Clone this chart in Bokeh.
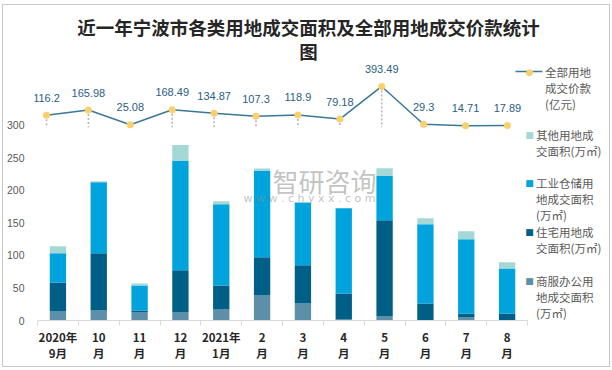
from bokeh.plotting import figure
from bokeh.models import ColumnDataSource, Range1d, FixedTicker, Label, Arrow
from bokeh.core.properties import value
from bokeh.embed import file_html
from bokeh.resources import INLINE

# ---------------- data ----------------
months = ["2020年\n9月", "10\n月", "11\n月", "12\n月", "2021年\n1月", "2\n月",
          "3\n月", "4\n月", "5\n月", "6\n月", "7\n月", "8\n月"]
commercial = [13.9, 15.4, 12.3, 12.3, 16.9, 38.5, 26.2, 1.5, 6.2, 0.0, 4.6, 0.0]      # 商服办公用地
residential = [44.6, 87.8, 3.1, 64.7, 37.0, 58.5, 58.5, 40.1, 147.8, 26.2, 6.2, 10.8]  # 住宅用地
industrial = [44.7, 109.3, 38.5, 167.9, 124.7, 132.5, 96.5, 130.9, 67.8, 121.6, 113.9, 69.2]  # 工业仓储用地
other = [10.8, 1.5, 3.1, 24.6, 4.7, 4.1, 1.0, 0.0, 12.2, 9.2, 12.3, 9.3]              # 其他用地
price = [116.2, 165.98, 25.08, 168.49, 134.87, 107.3, 118.9, 79.18, 393.49, 29.3, 14.71, 17.89]  # 全部用地成交价款(亿元)
y_ticks = [0, 50, 100, 150, 200, 250, 300]

title_lines = ["近一年宁波市各类用地成交面积及全部用地成交价款统计", "图"]
legend_line = ["全部用地", "成交价款", "(亿元)"]
legend_bars = [
    (["其他用地成", "交面积(万㎡)"], "#a3d8d6"),
    (["工业仓储用", "地成交面积", "(万㎡)"], "#00a3dc"),
    (["住宅用地成", "交面积(万㎡)"], "#005f86"),
    (["商服办公用", "地成交面积", "(万㎡)"], "#5d8fa8"),
]

n = len(months)
centers = [i + 0.5 for i in range(n)]

# ---------------- layout (page pixel geometry) ----------------
OX, OY = 3, 5                 # canvas origin on the page (inside a 1px border)
CW, CH = 604, 361             # canvas size
AX0, AX1 = 35, 525            # category axis extent (page px)
FL, FT, FB = 32, OY, 320      # frame left / top / bottom (page px)
FR = OX + CW                  # frame right = canvas right
UX = (AX1 - AX0) / n          # px per category
UY = 0.651                    # px per unit (primary y)
L0, LS = 44, 41.9             # secondary x: first point px, spacing
Z2, U2 = 126.8, 0.1038        # secondary y: zero px, px per unit


def X(px):
    return (px - AX0) / UX


def Y(py):
    return (FB - py) / UY


p = figure(frame_width=FR - FL, frame_height=FB - FT,
           min_border_left=FL - OX, min_border_right=0,
           min_border_top=0, min_border_bottom=OY + CH - FB,
           x_range=Range1d(X(FL), X(FR)), y_range=Range1d(0, Y(FT)),
           output_backend="svg", toolbar_location=None)
p.styles = {"margin-left": "2px", "margin-top": "4px", "border": "1px solid #c8c8c8"}
p.outline_line_color = None
p.xgrid.visible = False
p.ygrid.visible = False
p.background_fill_color = "white"
p.border_fill_color = "white"

# secondary ranges for the price line
p.extra_x_ranges = {"x2": Range1d((FL - L0) / LS, (FR - L0) / LS)}
p.extra_y_ranges = {"y2": Range1d(-(FB - Z2) / U2, (Z2 - FT) / U2)}

# ---------------- bars ----------------
src = ColumnDataSource(dict(x=centers, com=commercial, res=residential,
                            ind=industrial, oth=other))
p.vbar_stack(["com", "res", "ind", "oth"], x="x", width=0.4, source=src,
             fill_color=["#5d8fa8", "#005f86", "#00a3dc", "#a3d8d6"], line_color=None)

# ---------------- line ----------------
lsrc = ColumnDataSource(dict(i=list(range(n)), v=price, lab=[str(v) for v in price]))
p.segment(x0="i", y0="v", x1="i", y1=0, source=lsrc, x_range_name="x2", y_range_name="y2",
          line_color="#b5b5b5", line_width=1.6, line_dash="2 2")
p.line(x="i", y="v", source=lsrc, x_range_name="x2", y_range_name="y2",
       line_color="#3a7897", line_width=1.5)
p.scatter(x="i", y="v", source=lsrc, x_range_name="x2", y_range_name="y2",
          size=7, fill_color="#f8d06e", line_color=None)
p.text(x="i", y="v", text="lab", source=lsrc, x_range_name="x2", y_range_name="y2",
       y_offset=-17.5, text_align="center", text_baseline="middle",
       text_font=value("Liberation Sans"), text_font_size="11px", text_color="#2a6082")

# ---------------- axes ----------------
xa = p.xaxis[0]
xa.ticker = FixedTicker(ticks=centers, minor_ticks=list(range(n + 1)))
xa.bounds = (0, n)
xa.major_label_overrides = {c: m for c, m in zip(centers, months)}
xa.axis_line_color = "#d9d9d9"
xa.major_tick_line_color = None
xa.major_tick_out = 0
xa.major_tick_in = 0
xa.minor_tick_line_color = "#d9d9d9"
xa.minor_tick_out = 5
xa.minor_tick_in = 0
xa.major_label_standoff = 3
xa.major_label_text_font = "Noto Sans CJK SC"
xa.major_label_text_font_style = "bold"
xa.major_label_text_font_size = "11.5px"
xa.major_label_text_color = "#262626"
xa.major_label_text_line_height = 1.0

ya = p.yaxis[0]
ya.ticker = FixedTicker(ticks=y_ticks)
ya.axis_line_color = None
ya.major_tick_line_color = None
ya.minor_tick_line_color = None
ya.major_tick_out = 0
ya.major_label_standoff = 10
ya.major_label_text_font = "Liberation Sans"
ya.major_label_text_font_size = "10.5px"
ya.major_label_text_color = "#595959"

# ---------------- title ----------------
for txt, py in zip(title_lines, [26.7, 50.5]):
    p.add_layout(Label(x=X(306), y=Y(py), text=txt, text_align="center", text_baseline="middle",
                       text_font="Noto Sans CJK SC", text_font_style="bold",
                       text_font_size="18.5px", text_color="#262626"))

# ---------------- watermark ----------------
p.add_layout(Label(x=X(322), y=Y(180), text="智研咨询", text_align="center", text_baseline="middle",
                   text_font="Noto Sans CJK SC", text_font_size="26px", text_color="#8f8f8f",
                   text_alpha=0.55))
p.add_layout(Label(x=X(307), y=Y(198), text="w w w . c h y x x . c o m", text_align="center",
                   text_baseline="middle", text_font="DejaVu Sans", text_font_size="11px",
                   text_color="#8f8f8f", text_alpha=0.55))

# ---------------- legend ----------------
LEG_FONT = dict(text_font="Noto Sans CJK SC", text_font_size="11.5px", text_color="#595959",
                text_baseline="middle", text_align="left")
p.add_layout(Arrow(x_start=X(513), y_start=Y(71), x_end=X(540), y_end=Y(71), start=None, end=None,
                   line_color="#3a7897", line_width=1.5))
p.add_layout(Label(x=X(527.3), y=Y(71), text="●", text_align="center", text_baseline="middle",
                   text_font="DejaVu Sans", text_font_size="9px", text_color="#f8d06e"))
for txt, py in zip(legend_line, [71, 87.5, 103.5]):
    p.add_layout(Label(x=X(542.5), y=Y(py), text=txt, **LEG_FONT))

leg_y = [[134, 150], [182, 198.5, 214.5], [231.5, 247.5], [280, 296.5, 312.5]]
for (lines, col), ys in zip(legend_bars, leg_y):
    p.add_layout(Label(x=X(527), y=Y(ys[0]), text="■", text_align="center", text_baseline="middle",
                       text_font="DejaVu Sans", text_font_size="9px", text_color=col))
    for txt, py in zip(lines, ys):
        p.add_layout(Label(x=X(533.5), y=Y(py), text=txt, **LEG_FONT))

open("out.html", "w").write(file_html(p, INLINE))
